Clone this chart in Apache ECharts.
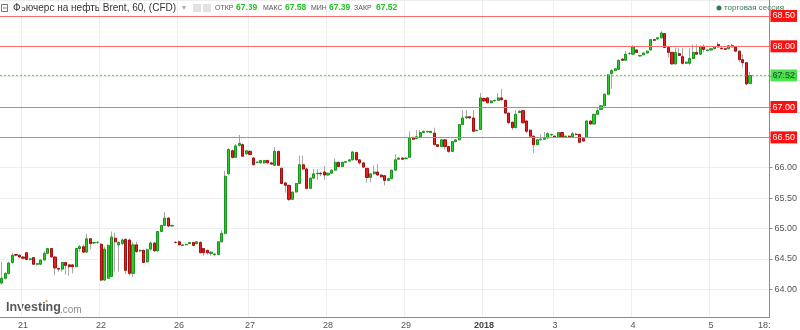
<!DOCTYPE html>
<html><head><meta charset="utf-8">
<script src="https://cdn.jsdelivr.net/npm/echarts/dist/echarts.min.js"></script>
<style>html,body{margin:0;padding:0;background:#fff}#c{width:800px;height:330px}</style>
</head><body><div id="c"></div><script>
// ---- data: hourly candles [open, close, low, high] per session ----
const dec20 = [[64.10,64.18,64.08,64.45],[64.18,64.26,64.16,64.28],[64.26,64.43,64.24,64.45],[64.44,64.56,64.42,64.60],[64.57,64.56,64.54,64.58],[64.56,64.53,64.51,64.57]];
const dec21 = [[64.53,64.51,64.49,64.54],[64.60,64.49,64.47,64.61],[64.49,64.50,64.47,64.51],[64.52,64.41,64.40,64.53],[64.41,64.42,64.39,64.43],[64.41,64.48,64.40,64.49],[64.48,64.59,64.47,64.63],[64.59,64.67,64.58,64.68],[64.67,64.53,64.52,64.68],[64.53,64.35,64.23,64.54],[64.34,64.33,64.29,64.35],[64.33,64.44,64.29,64.45],[64.44,64.39,64.24,64.45],[64.40,64.37,64.22,64.41],[64.40,64.37,64.26,64.41],[64.37,64.67,64.36,64.68],[64.67,64.70,64.62,64.73],[64.70,64.61,64.60,64.74],[64.61,64.83,64.60,64.91],[64.83,64.75,64.66,64.84],[64.76,64.77,64.74,64.78],[64.77,64.77,64.74,64.79]];
const dec22 = [[64.74,64.15,64.13,64.76],[64.15,64.66,64.14,64.70],[64.18,64.72,64.17,64.74],[64.21,64.86,64.20,64.95],[64.84,64.78,64.29,64.93],[64.73,64.77,64.29,64.79],[64.75,64.81,64.72,64.84],[64.82,64.31,64.25,64.84],[64.81,64.26,64.22,64.83],[64.26,64.73,64.20,64.78],[64.73,64.62,64.60,64.78],[64.63,64.64,64.61,64.65],[64.64,64.44,64.43,64.65],[64.45,64.65,64.44,64.67],[64.66,64.76,64.64,64.78],[64.76,64.63,64.62,64.77],[64.63,64.95,64.62,64.96],[64.95,65.05,64.94,65.06],[65.05,65.17,65.04,65.27],[65.17,65.04,65.02,65.19],[65.04,65.05,65.03,65.06],[64.77,64.77,64.75,64.79]];
const dec26 = [[64.78,64.73,64.72,64.80],[64.72,64.73,64.71,64.74],[64.73,64.74,64.72,64.75],[64.75,64.77,64.74,64.78],[64.77,64.72,64.71,64.78],[64.75,64.78,64.74,64.79],[64.77,64.60,64.59,64.79],[64.67,64.60,64.55,64.68],[64.64,64.60,64.57,64.65],[64.59,64.61,64.55,64.62],[64.57,64.58,64.54,64.59],[64.57,64.78,64.56,64.79],[64.78,64.92,64.77,64.97],[64.92,65.86,64.90,65.95],[65.90,66.30,65.88,66.32],[66.28,66.17,66.15,66.30],[66.17,66.36,66.16,66.39],[66.37,66.40,66.35,66.54],[66.38,66.19,66.18,66.40],[66.23,66.28,66.21,66.29]];
const dec27 = [[66.27,66.22,66.21,66.29],[66.16,66.05,66.04,66.18],[66.09,66.09,66.07,66.10],[66.08,66.12,66.07,66.13],[66.08,66.12,66.07,66.13],[66.12,66.08,66.07,66.13],[66.08,66.06,66.05,66.09],[66.04,66.27,66.03,66.34],[66.27,66.04,66.03,66.28],[65.99,65.74,65.73,66.01],[65.75,65.71,65.59,65.76],[65.71,65.48,65.45,65.72],[65.48,65.60,65.47,65.61],[65.60,65.74,65.59,65.75],[65.74,66.05,65.73,66.20],[66.05,65.98,65.96,66.20],[65.98,65.66,65.64,66.00],[65.66,65.83,65.65,65.84],[65.83,65.90,65.82,65.98],[65.90,65.91,65.80,65.98],[65.91,65.90,65.86,65.93],[65.93,65.88,65.80,66.03]];
const dec28 = [[65.88,65.91,65.87,65.92],[65.91,65.96,65.90,65.97],[65.96,66.09,65.95,66.15],[66.09,66.02,66.01,66.10],[66.02,66.09,66.01,66.10],[66.09,66.10,66.08,66.11],[66.11,66.13,66.10,66.14],[66.13,66.26,66.12,66.27],[66.25,66.13,66.12,66.26],[66.13,66.08,66.05,66.14],[66.08,66.01,66.00,66.09],[65.99,65.84,65.75,66.00],[65.84,65.90,65.76,65.91],[65.90,65.93,65.89,66.04],[65.93,65.88,65.87,66.06],[65.88,65.85,65.84,65.89],[65.87,65.79,65.71,65.88],[65.79,65.82,65.78,65.83],[65.82,65.96,65.81,65.97],[65.96,66.13,65.95,66.22],[66.14,66.16,66.13,66.17],[66.16,66.14,66.13,66.17]];
const dec29 = [[66.15,66.16,66.14,66.17],[66.17,66.50,66.16,66.60],[66.50,66.47,66.46,66.51],[66.48,66.51,66.47,66.62],[66.51,66.58,66.50,66.62],[66.58,66.60,66.57,66.61],[66.59,66.60,66.58,66.61],[66.58,66.60,66.57,66.61],[66.57,66.38,66.37,66.66],[66.38,66.35,66.34,66.39],[66.35,66.46,66.34,66.47],[66.46,66.35,66.30,66.47],[66.35,66.27,66.24,66.36],[66.27,66.43,66.26,66.44],[66.43,66.46,66.42,66.47],[66.46,66.71,66.45,66.72],[66.71,66.82,66.70,66.95],[66.82,66.84,66.81,66.95],[66.84,66.82,66.81,66.85],[66.82,66.60,66.59,66.95],[66.61,66.62,66.60,66.63],[66.63,67.15,66.62,67.23]];
const jan02 = [[67.14,67.10,67.08,67.16],[67.15,67.07,67.06,67.16],[67.07,67.10,67.06,67.11],[67.10,67.11,67.09,67.12],[67.11,67.15,67.10,67.23],[67.15,67.12,67.11,67.30],[67.11,66.90,66.89,67.12],[66.90,66.74,66.73,66.91],[66.75,66.66,66.62,66.76],[66.66,66.88,66.65,66.95],[66.91,66.93,66.90,66.95],[66.94,66.74,66.73,66.95],[66.77,66.60,66.57,66.78],[66.62,66.52,66.51,66.63],[66.52,66.38,66.24,66.53],[66.38,66.46,66.37,66.47],[66.46,66.47,66.45,66.55],[66.47,66.49,66.46,66.59],[66.49,66.56,66.48,66.59],[66.54,66.55,66.52,66.56]];
const jan03 = [[66.52,66.50,66.49,66.53],[66.50,66.58,66.49,66.59],[66.58,66.51,66.50,66.59],[66.51,66.52,66.50,66.53],[66.52,66.51,66.50,66.53],[66.51,66.56,66.50,66.59],[66.55,66.55,66.53,66.58],[66.55,66.42,66.41,66.56],[66.48,66.44,66.43,66.49],[66.50,66.77,66.49,66.78],[66.77,66.72,66.71,66.78],[66.72,66.88,66.71,66.89],[66.88,66.94,66.87,66.98],[66.96,67.02,66.95,67.03],[67.02,67.21,67.01,67.22],[67.21,67.53,67.20,67.54],[67.55,67.60,67.30,67.62],[67.60,67.63,67.59,67.64],[67.62,67.77,67.61,67.78],[67.79,67.77,67.76,67.80],[67.77,67.87,67.76,67.92],[67.88,67.88,67.86,67.91]];
const jan04 = [[67.87,67.99,67.86,68.02],[67.94,67.90,67.89,67.95],[67.84,67.85,67.83,67.86],[67.86,67.89,67.85,67.90],[67.89,67.92,67.88,67.93],[67.94,68.11,67.93,68.12],[68.11,68.10,68.09,68.12],[68.12,68.14,68.11,68.15],[68.14,68.22,68.13,68.25],[68.21,67.98,67.97,68.22],[67.98,67.90,67.82,67.99],[67.90,67.71,67.70,67.91],[67.71,67.90,67.70,67.98],[67.88,67.85,67.84,67.97],[67.83,67.72,67.70,67.97],[67.72,67.74,67.71,67.75],[67.72,67.80,67.69,67.97],[67.80,67.90,67.79,68.03],[67.90,67.87,67.86,68.03],[67.87,68.00,67.86,68.01],[68.00,67.95,67.90,68.03],[67.93,67.94,67.92,67.95]];
const jan05 = [[67.94,67.96,67.93,67.97],[67.96,67.99,67.95,68.00],[68.03,67.99,67.98,68.07],[67.97,67.96,67.95,67.98],[67.96,67.95,67.94,67.97],[67.96,68.01,67.95,68.02],[68.01,67.99,67.98,68.04],[67.99,67.92,67.91,68.00],[67.92,67.78,67.74,67.93],[67.78,67.73,67.65,67.87],[67.73,67.38,67.36,67.74],[67.39,67.52,67.39,67.58]];

const sessions = [dec20, dec21, dec22, dec26, dec27, dec28, dec29, jan02, jan03, jan04, jan05];
const dayLabels = ['', '21', '22', '26', '27', '28', '29', '2018', '3', '4', '5'];
const timeLabel = '18:';
const levelLines = [68.5, 68.0, 67.0, 66.5];
const lastPrice = 67.52;
const titleText = 'Фьючерс на нефть Brent, 60, (CFD)';
const ohlcNames = ['ОТКР', 'МАКС', 'МИН', 'ЗАКР'];
const ohlcValues = ['67.39', '67.58', '67.39', '67.52'];
const sessionText = 'торговая сессия';

// ---- build ----
const candles = [];
const cats = [];
sessions.forEach((s, si) => {
  s.forEach((c, k) => { candles.push(c); cats.push(k === 0 ? dayLabels[si] : ''); });
});
const SLOTS = 217;
while (cats.length < SLOTS) cats.push('');
cats[215] = timeLabel;
const wickData = candles.map(c => c);
const bodyData = candles.map(c => [c[0], c[1], Math.min(c[0], c[1]), Math.max(c[0], c[1])]);

const FF = 'Liberation Sans, Arial, sans-serif';
const hidden = levelLines.slice();
const chart = echarts.init(document.getElementById('c'), null, {renderer: 'canvas'});

const hdr = [];
hdr.push({type: 'rect', shape: {x: 1.5, y: 4.5, width: 6, height: 7}, style: {fill: 'none', stroke: '#777', lineWidth: 1}});
hdr.push({type: 'line', shape: {x1: 3, y1: 8, x2: 6.5, y2: 8}, style: {stroke: '#777', lineWidth: 1}});
hdr.push({type: 'text', x: 13, y: 8, style: {text: titleText, font: '10px ' + FF, fill: '#333', verticalAlign: 'middle'}});
hdr.push({type: 'text', x: 182, y: 8, style: {text: '▾', font: '8px DejaVu Sans', fill: '#aaa', verticalAlign: 'middle'}});
hdr.push({type: 'rect', shape: {x: 193, y: 4, width: 8, height: 8}, style: {fill: '#e2e2e2'}});
hdr.push({type: 'rect', shape: {x: 203, y: 4, width: 8, height: 8}, style: {fill: '#e2e2e2'}});
const namesX = [215, 263, 311, 354];
const valsX = [236, 285, 329, 376];
ohlcNames.forEach((n, i) => {
  hdr.push({type: 'text', x: namesX[i], y: 8, style: {text: n, font: '7px ' + FF, fill: '#555', verticalAlign: 'middle'}});
  hdr.push({type: 'text', x: valsX[i], y: 8, style: {text: ohlcValues[i], font: 'bold 8.5px ' + FF, fill: '#22c322', verticalAlign: 'middle'}});
});
hdr.push({type: 'circle', shape: {cx: 719, cy: 8, r: 2.5}, style: {fill: '#2e7d52'}});
hdr.push({type: 'text', x: 724, y: 8, style: {text: sessionText, font: '8px ' + FF, fill: '#3b7a5a', verticalAlign: 'middle'}});
hdr.push({type: 'text', x: 6, y: 308, style: {text: 'Investing', font: 'bold 12.5px ' + FF, fill: '#595959', verticalAlign: 'middle'}});
hdr.push({type: 'text', x: 60, y: 310, style: {text: '.com', font: '10px ' + FF, fill: '#8c8c8c', verticalAlign: 'middle'}});
hdr.push({type: 'rect', shape: {x: 45.5, y: 300, width: 2, height: 2}, style: {fill: '#f5a623'}});

const markData = levelLines.map(v => ({
  yAxis: v,
  lineStyle: {color: '#ff6b6b', width: 1.2, type: 'solid'},
  label: {formatter: v.toFixed(2), backgroundColor: '#ff1010', color: '#fff'}
}));
markData.push({
  yAxis: lastPrice,
  lineStyle: {color: '#44cc44', width: 1.3, type: [2, 2], opacity: 0.8},
  label: {formatter: lastPrice.toFixed(2), backgroundColor: '#22dd22', color: '#123'}
});

chart.setOption({
  animation: false,
  backgroundColor: '#fff',
  textStyle: {fontFamily: FF},
  grid: {left: 0, right: 24, top: 0, bottom: 11, containLabel: false},
  xAxis: {
    type: 'category', data: cats, boundaryGap: true,
    axisLine: {lineStyle: {color: '#8c8c8c'}},
    axisTick: {show: false},
    axisLabel: {
      interval: (i, v) => v !== '', margin: 4, fontSize: 9, color: '#555', fontFamily: FF,
      formatter: v => v === '2018' ? '{b|2018}' : v,
      rich: {b: {fontWeight: 'bold', fontSize: 9, color: '#444', fontFamily: FF}}
    },
    splitLine: {show: true, interval: (i, v) => v !== '' && v !== timeLabel, lineStyle: {color: '#eeeeee'}}
  },
  yAxis: {
    type: 'value', position: 'right', scale: true,
    min: 63.5417, max: 68.7627, splitNumber: 10, minInterval: 0.5, maxInterval: 0.5,
    axisLine: {show: true, lineStyle: {color: '#8c8c8c'}},
    axisTick: {show: true, length: 3, lineStyle: {color: '#8c8c8c'}},
    axisLabel: {
      margin: 5, fontSize: 9, color: '#555', fontFamily: FF, showMinLabel: false, showMaxLabel: false,
      formatter: v => hidden.some(h => Math.abs(h - v) < 1e-6) ? '' : v.toFixed(2)
    },
    splitLine: {lineStyle: {color: '#eeeeee'}}
  },
  series: [
    {
      type: 'candlestick', data: wickData, barWidth: 1,
      itemStyle: {color: '#a8a8a8', color0: '#a8a8a8', borderColor: '#a8a8a8', borderColor0: '#a8a8a8', borderWidth: 1},
      markLine: {
        symbol: ['none', 'none'], silent: true, animation: false,
        label: {show: true, position: 'end', distance: 1, fontSize: 9, fontFamily: FF, padding: [2, 2, 1, 2]},
        data: markData
      }
    },
    {
      type: 'candlestick', data: bodyData, barWidth: 2.6,
      itemStyle: {color: '#2ccc2c', color0: '#e02020', borderColor: '#17951b', borderColor0: '#a50e0e', borderWidth: 1}
    }
  ],
  graphic: hdr
});
</script></body></html>
